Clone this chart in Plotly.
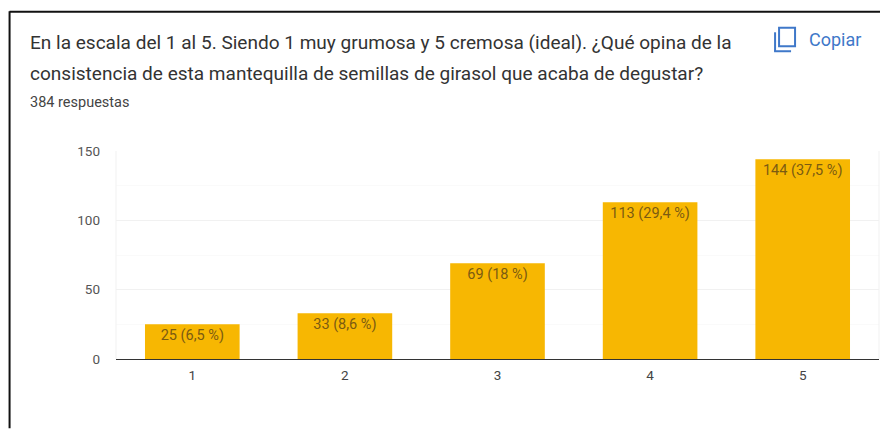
import plotly.graph_objects as go

categories = ["1", "2", "3", "4", "5"]
counts = [25, 33, 69, 113, 144]
labels = ["25 (6,5 %)", "33 (8,6 %)", "69 (18 %)", "113 (29,4 %)", "144 (37,5 %)"]
y_ticks = [0, 50, 100, 150]
y_minor = [25, 75, 125]
title_lines = [
    "En la escala del 1 al 5. Siendo 1 muy grumosa y 5 cremosa (ideal). ¿Qué opina de la",
    "consistencia de esta mantequilla de semillas de girasol que acaba de degustar?",
]
subtitle = "384 respuestas"
copy_label = "Copiar"

W, H = 880, 429
L, R, T, B = 115.5, 879, 151, 359.5
FONT = "Roboto"
BLUE = "#3f78c9"


def px(x):
    return (x - L) / (R - L)


def py(y):
    return (B - y) / (B - T)


fig = go.Figure(
    go.Bar(
        x=categories,
        y=counts,
        text=labels,
        width=0.62,
        marker=dict(color="#f7b702", line=dict(width=0)),
        textposition="inside",
        insidetextanchor="end",
        textangle=0,
        constraintext="none",
        insidetextfont=dict(family=FONT, size=14.5, color="#7b5b12"),
        cliponaxis=False,
    )
)


def add_text(x, y, text, size, color, anchor="left"):
    fig.add_annotation(
        x=px(x), y=py(y), xref="paper", yref="paper", text=text, showarrow=False,
        xanchor=anchor, yanchor="middle", align="left", borderpad=0,
        font=dict(family=FONT, size=size, color=color),
    )


add_text(28.5, 42, title_lines[0], 19.05, "#333333")
add_text(28.5, 73, title_lines[1], 19.05, "#333333")
add_text(28.5, 102, subtitle, 14.5, "#444444")
add_text(807.5, 39, copy_label, 18, BLUE)


def frame_line(x0, y0, x1, y1, color, width):
    fig.add_shape(
        type="line", xref="paper", yref="paper",
        x0=px(x0), y0=py(y0), x1=px(x1), y1=py(y1),
        line=dict(color=color, width=width),
    )


# outer frame of the screenshot
frame_line(9, 11.5, 880, 11.5, "#111111", 2)
frame_line(9, 11, 9, 429, "#111111", 2)
# plot edges
frame_line(L, T, L, B, "#f1f1f1", 1)
frame_line(R, T, R, B, "#f1f1f1", 1)
# copy icon
fig.add_shape(type="rect", xref="paper", yref="paper",
              x0=px(779), y0=py(27.5), x1=px(795), y1=py(46),
              line=dict(color=BLUE, width=2), fillcolor="rgba(0,0,0,0)")
frame_line(775, 32, 775, 51, BLUE, 2)
frame_line(774, 51, 791, 51, BLUE, 2)

fig.update_layout(
    width=W, height=H, autosize=False,
    margin=dict(l=L, r=W - R, t=T, b=H - B, pad=0),
    paper_bgcolor="white", plot_bgcolor="white",
    showlegend=False, bargap=0.38,
    font=dict(family=FONT, size=13.5, color="#555555"),
)
fig.update_xaxes(
    type="category", categoryorder="array", categoryarray=categories,
    tickfont=dict(family=FONT, size=13.5, color="#444444"),
    showgrid=False, ticks="", ticklen=0, showline=False, zeroline=False,
    ticklabelstandoff=6,
)
fig.update_yaxes(
    range=[0, 150], tickvals=y_ticks, ticks="", ticklen=0, showline=False,
    tickfont=dict(family=FONT, size=13.5, color="#555555"),
    gridcolor="#f1f1f1", gridwidth=1, zeroline=True, zerolinecolor="#333333", zerolinewidth=1,
    ticklabelstandoff=15,
    minor=dict(tickvals=y_minor, showgrid=True, gridcolor="#fafafa", gridwidth=1, ticks=""),
)

fig.write_html(
    "out.html",
    config={"displayModeBar": False},
    post_script="document.body.style.margin='0';",
)
